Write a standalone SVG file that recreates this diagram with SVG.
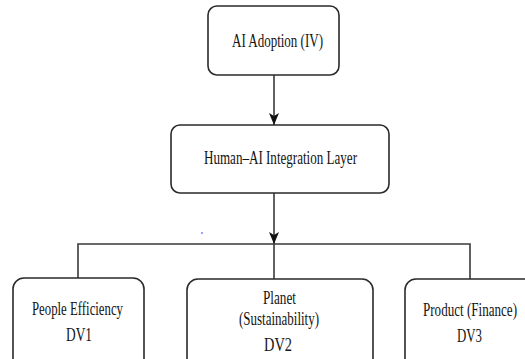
<svg xmlns="http://www.w3.org/2000/svg" width="525" height="359" viewBox="0 0 525 359">
<style>
.box{fill:#fff;stroke:#2a2a2a;stroke-width:1.6}
.t{font-family:"Liberation Serif","Times New Roman",serif;font-size:19px;fill:#141414;text-anchor:middle}
.ln{stroke:#3a3a3a;stroke-width:1.6;fill:none}
</style>
<defs>
<marker id="arr" viewBox="0 0 12 10" refX="12" refY="5" markerWidth="12" markerHeight="10" markerUnits="userSpaceOnUse" orient="auto">
<path d="M0,0 L12,5 L0,10 L3,5 z" fill="#111"/>
</marker>
</defs>
<rect width="525" height="359" fill="#fff"/>
<g id="connectors">
<line class="ln" x1="274" y1="75" x2="274" y2="125" marker-end="url(#arr)"/>
<line class="ln" x1="274" y1="193" x2="274" y2="244" marker-end="url(#arr)"/>
<polyline class="ln" points="78,278 78,244 470,244 470,279"/>
<line class="ln" x1="274" y1="244" x2="274" y2="279"/>
</g>
<circle cx="202" cy="233" r="0.8" fill="#2030ff"/>
<g id="n_ai">
<rect class="box" x="208" y="6" width="131" height="69" rx="9"/>
<text class="t" x="277.5" y="47" textLength="91" lengthAdjust="spacingAndGlyphs">AI Adoption (IV)</text>
</g>
<g id="n_layer">
<rect class="box" x="171" y="125" width="218" height="68" rx="9"/>
<text class="t" x="280.5" y="164" textLength="153" lengthAdjust="spacingAndGlyphs">Human–AI Integration Layer</text>
</g>
<g id="n_people">
<rect class="box" x="13" y="278" width="131" height="95" rx="11"/>
<text class="t" x="77.5" y="315" textLength="91" lengthAdjust="spacingAndGlyphs">People Efficiency</text>
<text class="t" x="79" y="341" textLength="26" lengthAdjust="spacingAndGlyphs">DV1</text>
</g>
<g id="n_planet">
<rect class="box" x="187" y="279" width="186" height="95" rx="11"/>
<text class="t" x="279.5" y="304" textLength="33" lengthAdjust="spacingAndGlyphs">Planet</text>
<text class="t" x="279" y="325" textLength="80" lengthAdjust="spacingAndGlyphs">(Sustainability)</text>
<text class="t" x="278" y="351" textLength="28" lengthAdjust="spacingAndGlyphs">DV2</text>
</g>
<g id="n_product">
<rect class="box" x="405" y="279" width="135" height="95" rx="11"/>
<text class="t" x="470" y="316" textLength="94" lengthAdjust="spacingAndGlyphs">Product (Finance)</text>
<text class="t" x="469.5" y="342" textLength="25" lengthAdjust="spacingAndGlyphs">DV3</text>
</g>
</svg>
